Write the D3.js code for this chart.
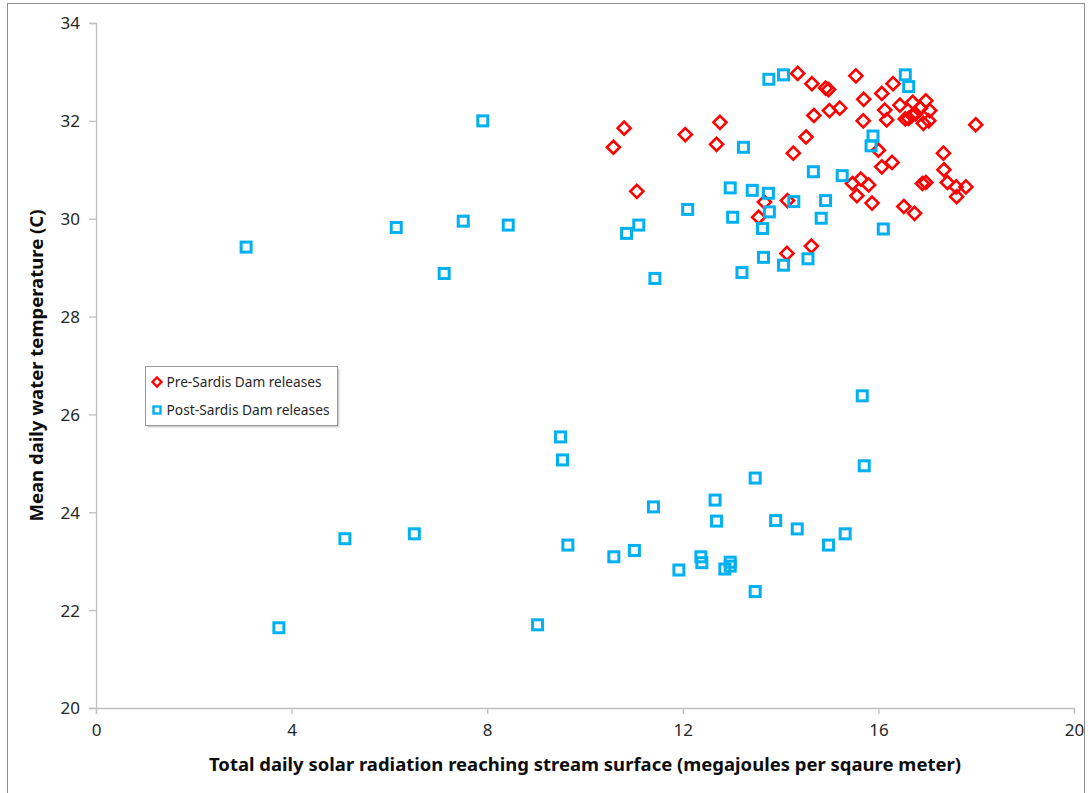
<!DOCTYPE html>
<html>
<head>
<meta charset="utf-8">
<script src="https://cdn.jsdelivr.net/npm/d3@7"></script>
<style>
  body { margin: 0; background: #fff; }
  svg { display: block; font-family: "Noto Sans", "Open Sans", sans-serif; }
</style>
</head>
<body>
<div id="chart"></div>
<script>
// Pre-Sardis Dam releases (red diamonds)
var preX = [10.58, 10.80, 11.06, 12.05, 12.76, 12.69, 13.67, 13.55, 14.14, 14.13,
            14.63, 14.35, 14.64, 14.68, 14.52, 14.26, 14.92, 14.98, 15.00, 15.21,
            15.54, 15.70, 15.69, 16.07, 16.30, 16.13, 16.17, 16.44, 16.70, 16.97,
            16.86, 17.05, 16.69, 16.76, 16.62, 16.55, 16.92, 17.03, 17.99, 16.00,
            16.28, 16.07, 17.33, 17.34, 15.47, 15.64, 15.80, 15.56, 15.87, 16.90,
            16.97, 17.41, 17.59, 17.79, 17.60, 16.52, 16.74]
var preY = [31.46, 31.85, 30.56, 31.72, 31.97, 31.52, 30.34, 30.03, 30.37, 29.29,
            29.44, 32.97, 32.76, 32.11, 31.67, 31.34, 32.67, 32.64, 32.21, 32.26,
            32.92, 32.44, 32.00, 32.56, 32.76, 32.22, 32.02, 32.32, 32.38, 32.41,
            32.26, 32.21, 32.11, 32.14, 32.05, 32.04, 31.95, 32.00, 31.92, 31.40,
            31.15, 31.06, 31.34, 31.00, 30.72, 30.81, 30.69, 30.47, 30.32, 30.72,
            30.74, 30.74, 30.65, 30.65, 30.45, 30.25, 30.11]

// Post-Sardis Dam releases (blue squares)
var postX = [3.07, 3.74, 5.09, 6.51, 6.14, 7.12, 7.51, 7.91, 8.43, 9.03,
             9.50, 9.54, 9.65, 10.59, 10.85, 11.10, 11.01, 11.40, 11.43, 11.92,
             12.37, 12.39, 12.10, 12.66, 12.69, 12.86, 12.97, 12.97, 13.48, 13.48,
             13.90, 14.34, 14.98, 15.32, 15.67, 15.71, 12.97, 13.02, 13.24, 13.42,
             13.75, 13.77, 13.63, 13.21, 13.65, 14.06, 14.56, 13.76, 14.06, 14.67,
             14.27, 16.55, 16.62, 15.89, 15.85, 15.26, 14.92, 14.83, 16.10]
var postY = [29.42, 21.64, 23.46, 23.56, 29.82, 28.88, 29.95, 32.00, 29.87, 21.70,
             25.54, 25.07, 23.33, 23.09, 29.70, 29.87, 23.22, 24.11, 28.78, 22.82,
             23.09, 22.97, 30.19, 24.25, 23.82, 22.84, 22.90, 22.98, 22.38, 24.70,
             23.83, 23.66, 23.33, 23.56, 26.38, 24.95, 30.63, 30.03, 31.46, 30.58,
             30.52, 30.14, 29.80, 28.90, 29.21, 29.05, 29.18, 32.85, 32.94, 30.96,
             30.35, 32.94, 32.70, 31.69, 31.49, 30.88, 30.37, 30.01, 29.79]

var xTicks = [0, 4, 8, 12, 16, 20]
var yTicks = [20, 22, 24, 26, 28, 30, 32, 34]
var seriesNames = ["Pre-Sardis Dam releases", "Post-Sardis Dam releases"]
var xTitle = "Total daily solar radiation reaching stream surface (megajoules per sqaure meter)"
var yTitle = "Mean daily water temperature (C)"

var W = 1088, H = 793
var plot = {left: 96, right: 1074, top: 23, bottom: 708}
var red = "#ff0000", blue = "#00b0f0", axisGray = "#bfbfbf"

var svg = d3.select("#chart").append("svg")
    .attr("width", W)
    .attr("height", H)

svg.append("rect").attr("width", W).attr("height", H).attr("fill", "#fff")

// chart border (runs off the right/bottom of the picture)
svg.append("rect")
    .attr("x", 7.5).attr("y", 3.5)
    .attr("width", 1077).attr("height", 900)
    .attr("fill", "none")
    .attr("stroke", "#8c8c8c")

var x = d3.scaleLinear().domain([0, 20]).range([plot.left, plot.right])
var y = d3.scaleLinear().domain([20, 34]).range([plot.bottom, plot.top])

// axes
var xAxis = svg.append("g")
    .attr("transform", "translate(0," + plot.bottom + ")")
    .call(d3.axisBottom(x).tickValues(xTicks).tickSizeOuter(0).tickSize(6).tickPadding(10))
var yAxis = svg.append("g")
    .attr("transform", "translate(" + plot.left + ",0)")
    .call(d3.axisLeft(y).tickValues(yTicks).tickSizeOuter(0).tickSize(7).tickPadding(9))

svg.selectAll(".domain").attr("stroke", axisGray).attr("stroke-width", 1.3)
svg.selectAll(".tick line").attr("stroke", axisGray).attr("stroke-width", 1.3)
svg.selectAll(".tick text")
    .attr("fill", "#262626")
    .style("font-size", "17px")
    .style("font-family", "'Noto Sans', sans-serif")
yAxis.selectAll(".tick text").attr("dy", "0.35em")

// axis titles
svg.append("text")
    .attr("x", 585).attr("y", 771)
    .attr("text-anchor", "middle")
    .attr("textLength", 752)
    .attr("lengthAdjust", "spacingAndGlyphs")
    .style("font-size", "17px")
    .style("font-weight", "bold")
    .attr("fill", "#0d0d0d")
    .text(xTitle)

svg.append("text")
    .attr("transform", "translate(43," + ((plot.top + plot.bottom) / 2) + ") rotate(-90)")
    .attr("text-anchor", "middle")
    .attr("textLength", 312)
    .attr("lengthAdjust", "spacingAndGlyphs")
    .style("font-size", "17px")
    .style("font-weight", "bold")
    .attr("fill", "#0d0d0d")
    .text(yTitle)

// markers
var pre = preX.map(function(d, i) { return {x: d, y: preY[i]} })
var post = postX.map(function(d, i) { return {x: d, y: postY[i]} })

var diamond = "M0,-6.5L6.5,0L0,6.5L-6.5,0Z"

svg.append("g").selectAll("path")
    .data(pre)
    .enter()
    .append("path")
    .attr("d", diamond)
    .attr("transform", function(d) { return "translate(" + x(d.x) + "," + y(d.y) + ")" })
    .attr("fill", "none")
    .attr("stroke", red)
    .attr("stroke-width", 2.6)

svg.append("g").selectAll("rect")
    .data(post)
    .enter()
    .append("rect")
    .attr("x", function(d) { return x(d.x) - 5 })
    .attr("y", function(d) { return y(d.y) - 5 })
    .attr("width", 10)
    .attr("height", 10)
    .attr("fill", "none")
    .attr("stroke", blue)
    .attr("stroke-width", 3)

// legend
var lg = svg.append("g").attr("transform", "translate(145.5,366.5)")
lg.append("rect").attr("x", 2).attr("y", 2).attr("width", 192).attr("height", 59).attr("fill", "#d0d0d0")
lg.append("rect").attr("width", 192).attr("height", 59).attr("fill", "#fff").attr("stroke", "#9a9a9a")

lg.append("path").attr("d", "M0,-4.5L4.5,0L0,4.5L-4.5,0Z")
    .attr("transform", "translate(11.5,15.5)")
    .attr("fill", "none").attr("stroke", red).attr("stroke-width", 2.4)
lg.append("rect").attr("x", 8).attr("y", 40).attr("width", 7).attr("height", 7)
    .attr("fill", "none").attr("stroke", blue).attr("stroke-width", 2.4)

lg.selectAll("text.lab")
    .data(seriesNames)
    .enter()
    .append("text")
    .attr("class", "lab")
    .attr("x", 21)
    .attr("y", function(d, i) { return 20 + i * 28 })
    .attr("textLength", function(d, i) { return i == 0 ? 155 : 163 })
    .attr("lengthAdjust", "spacingAndGlyphs")
    .style("font-size", "13.5px")
    .attr("fill", "#262626")
    .text(function(d) { return d })
</script>
</body>
</html>
